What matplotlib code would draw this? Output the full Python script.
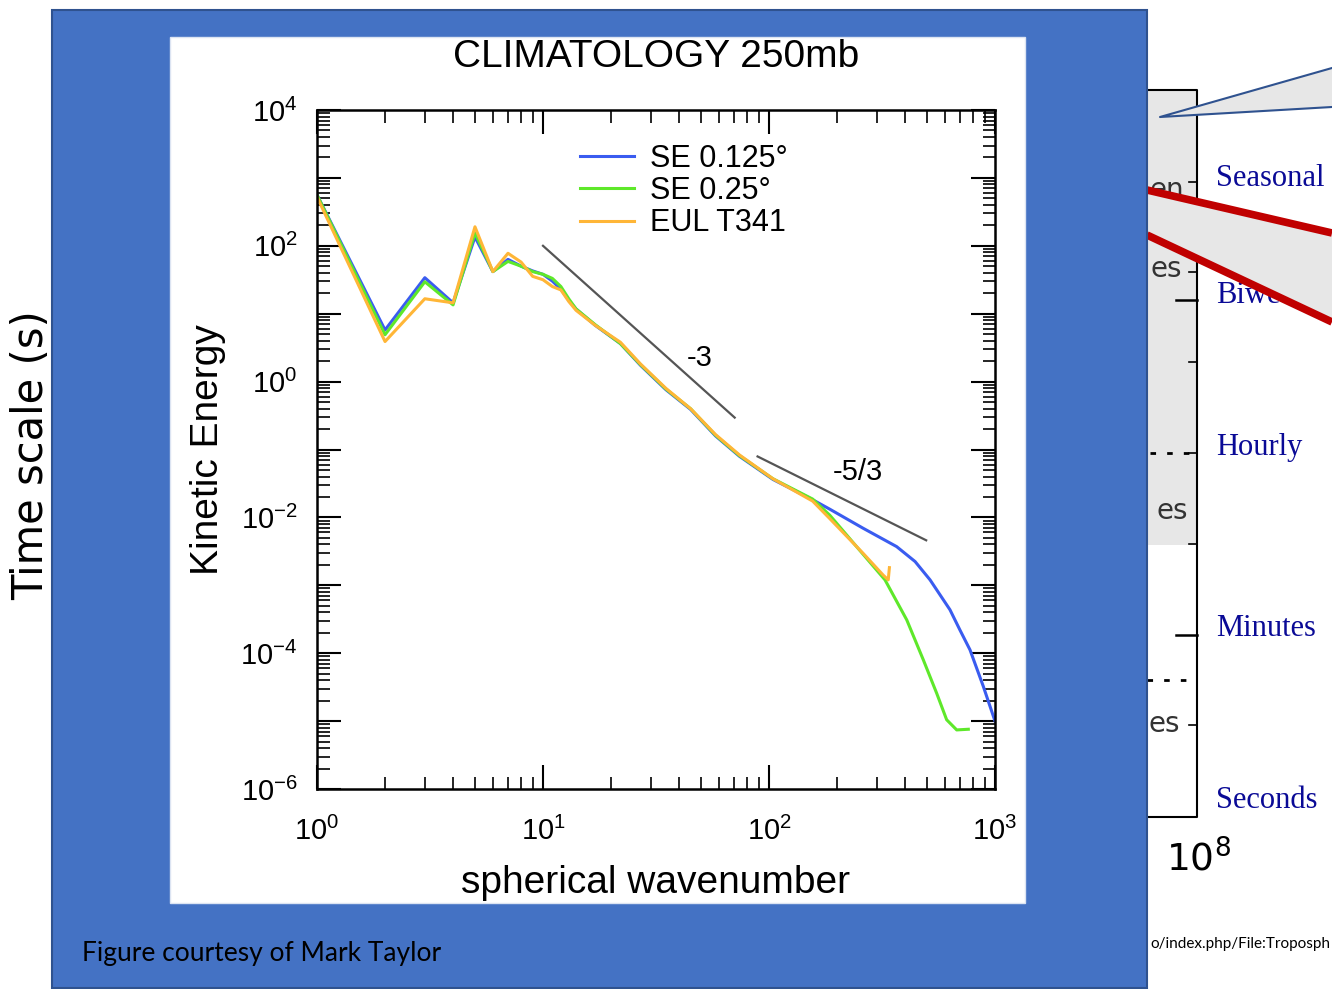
"""Slide snapshot: kinetic energy spectrum inset over a time-scale chart."""

import matplotlib

matplotlib.use("Agg")
import matplotlib.pyplot as plt
import numpy as np
from matplotlib.patches import Rectangle, Polygon
from matplotlib.ticker import LogLocator, FuncFormatter, NullFormatter

plt.rcParams["font.family"] = ["Liberation Sans", "DejaVu Sans"]
plt.rcParams["mathtext.fontset"] = "custom"
plt.rcParams["mathtext.rm"] = "Liberation Sans"
plt.rcParams["mathtext.sf"] = "DejaVu Sans"

# spectra (log10 of kinetic energy)
n_se125 = [1, 2, 3, 4, 5, 6, 7, 8, 9, 10, 11, 12, 13, 14, 17, 22, 27, 35, 45, 58,
           74, 104, 156, 186, 261, 367, 443, 516, 632, 700, 775, 888, 1000]
log_ke_se125 = [2.75, 0.76, 1.53, 1.16, 2.13, 1.62, 1.80, 1.70, 1.63, 1.58, 1.48,
                1.36, 1.20, 1.07, 0.83, 0.56, 0.24, -0.12, -0.41, -0.80, -1.10,
                -1.44, -1.74, -1.88, -2.16, -2.43, -2.65, -2.92, -3.36, -3.66,
                -3.95, -4.49, -5.00]

n_se25 = [1, 2, 3, 4, 5, 6, 7, 8, 9, 10, 11, 12, 13, 14, 17, 22, 27, 35, 45, 58,
          74, 104, 156, 186, 244, 326, 407, 482, 552, 611, 677, 762]
log_ke_se25 = [2.75, 0.69, 1.47, 1.13, 2.19, 1.62, 1.77, 1.70, 1.62, 1.58, 1.52,
               1.40, 1.22, 1.07, 0.84, 0.56, 0.25, -0.11, -0.40, -0.79, -1.09,
               -1.43, -1.73, -1.97, -2.43, -2.92, -3.51, -4.10, -4.59, -4.98,
               -5.13, -5.12]

n_eul = [1, 2, 3, 4, 5, 6, 7, 8, 9, 10, 11, 12, 13, 14, 17, 22, 27, 35, 45, 58,
         74, 104, 156, 186, 261, 320, 337, 341]
log_ke_eul = [2.72, 0.59, 1.22, 1.16, 2.28, 1.62, 1.89, 1.76, 1.55, 1.50, 1.40,
              1.35, 1.18, 1.05, 0.83, 0.58, 0.26, -0.10, -0.40, -0.78, -1.08,
              -1.43, -1.76, -2.02, -2.53, -2.85, -2.92, -2.74]

series_labels = ["SE 0.125°", "SE 0.25°", "EUL T341"]
series_colors = ["#3a5cf0", "#5ee82a", "#ffb637"]

# reference slopes
slope3_n = [10, 70.5]
slope3_ke = [100, 0.295]
slope53_n = [89, 496]
slope53_ke = [0.079, 0.0046]

# labels of the chart behind the inset
period_labels = ["Seasonal", "Biweekly", "Hourly", "Minutes", "Seconds"]
period_y = [178, 295, 448, 628, 800]

W, H = 1332, 989
fig = plt.figure(figsize=(W / 100, H / 100), dpi=100)

bg = fig.add_axes([0, 0, 1, 1])
bg.set_xlim(0, W)
bg.set_ylim(H, 0)
bg.axis("off")

# --- partially hidden chart on the right ---
gray = "#e7e7e7"
bg.add_patch(Rectangle((1100, 90), 97, 455, fc=gray, ec="none", zorder=1))
bg.plot([1100, 1197, 1197, 1100], [90, 90, 817, 817], color="black", lw=1.5, zorder=2)
for y in [182, 272, 362, 453, 544, 725]:
    bg.plot([1189, 1197], [y, y], color="black", lw=1.2, zorder=2)
for y in [300, 635]:
    bg.plot([1176, 1197], [y, y], color="black", lw=1.8, zorder=2)
bg.plot([1150, 1190], [453, 453], color="black", lw=2, ls=(0, (2, 4)), zorder=2)
bg.plot([1147, 1197], [680, 680], color="black", lw=2, ls=(0, (2, 4)), zorder=2)
for txt, x, y in [("en", 1184, 190), ("es", 1182, 269), ("es", 1188, 511), ("es", 1180, 724)]:
    bg.text(x, y, txt, ha="right", va="center", fontsize=20, family="DejaVu Sans",
            color="#333333", zorder=2)

for lab, y in zip(period_labels, period_y):
    bg.text(1216, y, lab, ha="left", va="center", fontsize=22,
            family="Liberation Serif", color="#0a0a96", zorder=2)

bg.add_patch(Polygon([(1160, 117), (1332, 68), (1332, 107)], closed=True,
                     fc=gray, ec="none", zorder=3))
bg.plot([1332, 1160, 1332], [68, 117, 107], color="#2f528f", lw=1.5, zorder=3)

bg.add_patch(Polygon([(1147, 190), (1332, 233), (1332, 322), (1147, 235)], closed=True,
                     fc=gray, ec="none", zorder=3))
bg.plot([1147, 1332], [190, 233], color="#c00000", lw=5.5, zorder=4, solid_capstyle="butt")
bg.plot([1147, 1332], [235, 322], color="#c00000", lw=5.5, zorder=4, solid_capstyle="butt")

bg.text(1198, 860, r"$\mathsf{10^{8}}$", ha="center", va="center", fontsize=27, zorder=2)
bg.text(1150, 944, "o/index.php/File:Troposph", ha="left", va="center", fontsize=11,
        family="Lato", color="black", zorder=2)

bg.text(31, 455, "Time scale (s)", rotation=90, ha="center", va="center", fontsize=30,
        family="DejaVu Sans", color="black", zorder=2)

# --- slide panel ---
bg.add_patch(Rectangle((52, 10), 1095, 978, fc="#4472c4", ec="#2f528f", lw=1.5, zorder=10))
bg.add_patch(Rectangle((170, 37), 855, 866, fc="white", ec="#dce4f2", lw=1, zorder=11))
bg.text(82, 954, "Figure courtesy of Mark Taylor", ha="left", va="center", fontsize=19,
        family="Lato", color="black", zorder=12)

# --- kinetic energy spectrum ---
ax = fig.add_axes([317 / W, 1 - 789 / H, 678 / W, 679 / H])
ax.set_facecolor("white")

for n, lke, lab, col in zip([n_se125, n_se25, n_eul],
                            [log_ke_se125, log_ke_se25, log_ke_eul],
                            series_labels, series_colors):
    ax.plot(n, 10.0 ** np.array(lke), color=col, lw=2.2, label=lab)

ax.plot(slope3_n, slope3_ke, color="#555555", lw=1.6)
ax.plot(slope53_n, slope53_ke, color="#555555", lw=1.6)
ax.text(49.5, 2.2, "-3", fontsize=21, ha="center", va="center")
ax.text(248, 0.047, "-5/3", fontsize=21, ha="center", va="center")

ax.set_xscale("log")
ax.set_yscale("log")
ax.set_xlim(1, 1000)
ax.set_ylim(1e-6, 1e4)

ax.xaxis.set_major_locator(LogLocator(base=10, numticks=10))
ax.xaxis.set_minor_locator(LogLocator(base=10, subs=np.arange(2, 10), numticks=10))
ax.yaxis.set_major_locator(LogLocator(base=10, numticks=20))
ax.yaxis.set_minor_locator(LogLocator(base=10, subs=np.arange(2, 10), numticks=20))
ax.xaxis.set_minor_formatter(NullFormatter())
ax.yaxis.set_minor_formatter(NullFormatter())


def dec_label(v, pos):
    e = int(round(np.log10(v)))
    return r"$\mathdefault{10^{%d}}$" % e


def even_dec_label(v, pos):
    e = int(round(np.log10(v)))
    return r"$\mathdefault{10^{%d}}$" % e if e % 2 == 0 else ""


ax.xaxis.set_major_formatter(FuncFormatter(dec_label))
ax.yaxis.set_major_formatter(FuncFormatter(even_dec_label))

ax.tick_params(which="both", direction="in", top=True, right=True, labelsize=21)
ax.tick_params(which="major", length=17, width=1.5)
ax.tick_params(which="minor", length=9, width=1.2)
ax.tick_params(axis="x", pad=20)
ax.tick_params(axis="y", pad=14)
for s in ax.spines.values():
    s.set_linewidth(1.8)

ax.set_title("CLIMATOLOGY 250mb", fontsize=28, pad=31)
ax.set_xlabel("spherical wavenumber", fontsize=28, labelpad=14)
ax.set_ylabel("Kinetic Energy", fontsize=28, labelpad=10)

ax.legend(loc="upper left", bbox_to_anchor=(0.388, 0.950), frameon=False,
          fontsize=22, handlelength=1.75, handletextpad=0.55, labelspacing=0.07,
          borderpad=0, borderaxespad=0)

fig.savefig("out.png", dpi=100)
